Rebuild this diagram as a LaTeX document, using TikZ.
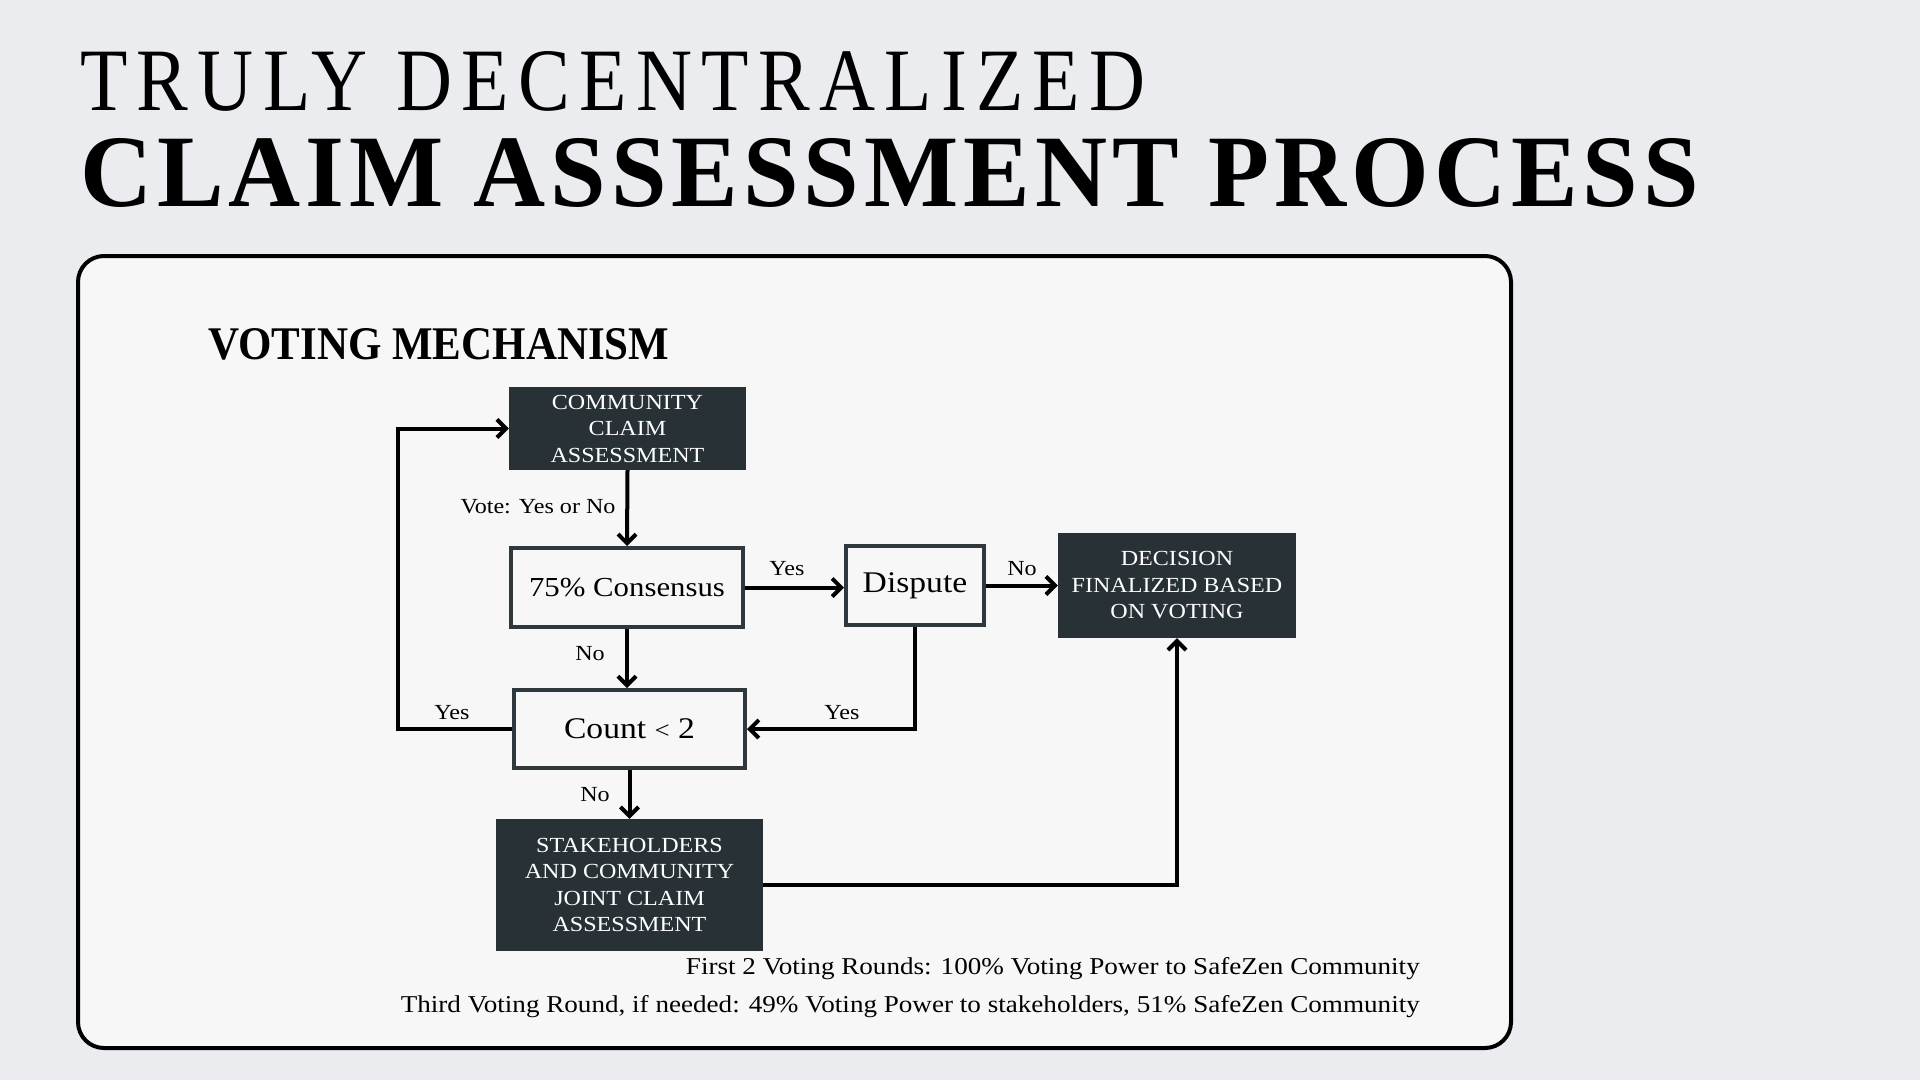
\documentclass[tikz,border=0pt]{standalone}
\usepackage{fontspec}
\setmainfont{Liberation Serif}
\newfontfamily\widefont[FakeStretch=1.12]{Liberation Serif}
\newfontfamily\spacedfont[LetterSpace=12]{Liberation Serif}
\newfontfamily\spacedbold[LetterSpace=5]{Liberation Serif Bold}
\usetikzlibrary{arrows.meta}
\definecolor{bgc}{HTML}{EBECF0}
\definecolor{panelc}{HTML}{F7F7F7}
\definecolor{darkbox}{HTML}{283136}
\definecolor{edgec}{HTML}{2E383D}
\tikzset{
  darknode/.style={fill=darkbox, draw=none, text=white, align=center, inner sep=0pt,
    font=\widefont\fontsize{21.5}{26.5}\selectfont},
  lightnode/.style={fill=panelc, draw=edgec, line width=4pt, text=black, align=center, inner sep=0pt,
    font=\widefont\fontsize{30}{34}\selectfont},
  conn/.style={line width=4pt, draw=black, -{Straight Barb[length=9pt,width=18pt,line width=4pt]}},
  lbl/.style={font=\widefont\fontsize{21.5}{25}\selectfont, inner sep=0pt, text=black},
  foot/.style={font=\widefont\fontsize{24.2}{30}\selectfont, inner sep=0pt, text=black, anchor=east}
}
\begin{document}
\begin{tikzpicture}[x=1pt,y=-1pt]
\useasboundingbox (0,0) rectangle (1920,1080);
\fill[bgc] (0,0) rectangle (1920,1080);
% titles
\node[anchor=base west, inner sep=0pt] (t1) at (80,110) {\resizebox{1065pt}{59pt}{\spacedfont TRULY DECENTRALIZED}};
\node[anchor=base west, inner sep=0pt] (t2) at (80,206) {\resizebox{1618pt}{68pt}{\spacedbold CLAIM ASSESSMENT PROCESS}};
% panel
\draw[line width=4pt, fill=panelc, rounded corners=26pt] (78,256) rectangle (1511,1048);
\node[anchor=base west, inner sep=0pt] (vm) at (208,359) {\resizebox{461pt}{31pt}{\bfseries VOTING MECHANISM}};
% nodes
\node[darknode, minimum width=237pt, minimum height=83pt] (comm) at (627.5,428.5) {COMMUNITY\\CLAIM\\ASSESSMENT};
\node[lightnode, minimum width=232pt, minimum height=79pt, font=\widefont\fontsize{27.5}{34}\selectfont] (cons) at (627,587.5) {75\% Consensus};
\node[lightnode, minimum width=138pt, minimum height=79pt] (disp) at (915,585.5) {Dispute};
\node[darknode, minimum width=238pt, minimum height=105pt] (dec) at (1177,585.5) {DECISION\\FINALIZED BASED\\ON VOTING};
\node[lightnode, minimum width=231pt, minimum height=78pt] (count) at (629.5,729) {Count {\fontsize{24}{30}\selectfont<} 2};
\node[darknode, minimum width=267pt, minimum height=132pt] (stake) at (629.5,885) {STAKEHOLDERS\\AND COMMUNITY\\JOINT CLAIM\\ASSESSMENT};
\coordinate (loopL) at (398,729);
% connectors
\draw[conn] (comm.south) -- (cons.north);
\draw[conn] (cons.east) -- (disp.west |- cons.east);
\draw[conn] (disp.east) -- (dec.west |- disp.east);
\draw[conn] (cons.south) -- (count.north -| cons.south);
\draw[conn] (count.west) -- (loopL) |- (comm.west);
\draw[conn] (disp.south) |- (count.east);
\draw[conn] (stake.east) -| (dec.south);
\draw[conn] (count.south) -- (stake.north);
% labels
\node[lbl] (l1) at (538,507) {Vote: Yes or No};
\node[lbl] (l2) at (787,569) {Yes};
\node[lbl] (l3) at (1022,569) {No};
\node[lbl] (l4) at (590,654) {No};
\node[lbl] (l5) at (452,713) {Yes};
\node[lbl] (l6) at (842,713) {Yes};
\node[lbl] (l7) at (595,795) {No};
% footer
\node[foot] (f1) at (1420,969) {First 2 Voting Rounds: 100\% Voting Power to SafeZen Community};
\node[foot] (f2) at (1420,1007) {Third Voting Round, if needed: 49\% Voting Power to stakeholders, 51\% SafeZen Community};
\end{tikzpicture}
\end{document}
